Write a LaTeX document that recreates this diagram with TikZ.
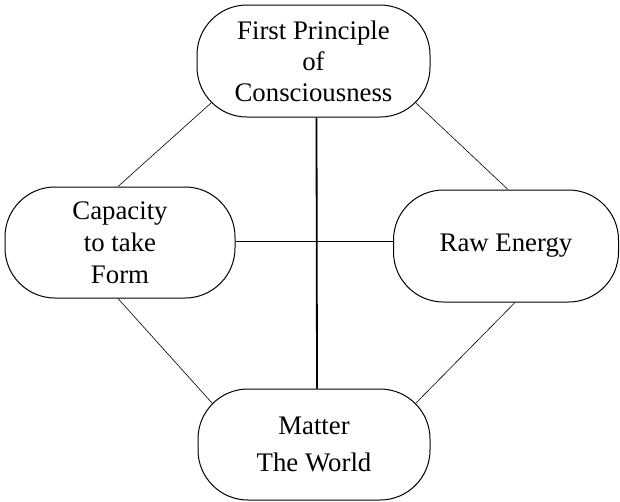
\documentclass[tikz,border=0pt]{standalone}
\usepackage{fontspec}
\setmainfont{Liberation Serif}
\usetikzlibrary{calc}
\begin{document}
\begin{tikzpicture}[x=1pt,y=-1pt,
  box/.style={draw, line width=1pt, rounded corners=50pt, align=center,
    font=\fontsize{26.8}{31}\selectfont, inner sep=0pt},
  thinlink/.style={line width=0.6pt},
  crossline/.style={line width=1.8pt}]
\useasboundingbox (0,0) rectangle (620,501);
\node[box, minimum width=233pt, minimum height=112pt] (top) at (313.5,61) {First Principle\\of\\Consciousness};
\node[box, minimum width=230pt, minimum height=111pt] (left) at (120,242.5) {Capacity\\[1pt]to take\\[1pt]Form};
\node[box, minimum width=225pt, minimum height=112pt] (right) at (506,246) {Raw Energy};
\node[box, minimum width=232pt, minimum height=111pt] (bottom) at (314,444.5) {Matter\\[6pt]The World};
% cross
\draw[crossline] ([xshift=3pt]top.south) -- ([xshift=3pt]bottom.north);
\draw[crossline] ([yshift=1pt]left.east) -- ([yshift=1pt]left.east -| right.west);
% diagonals
\draw[thinlink] ([shift={(14.6,-14.6)}]top.south west) -- ([xshift=-2pt]left.north);
\draw[thinlink] ([shift={(-14.6,-14.6)}]top.south east) -- ([xshift=2pt]right.north);
\draw[thinlink] ([xshift=-2pt]left.south) -- ([shift={(14.6,14.6)}]bottom.north west);
\draw[thinlink] ([xshift=9pt]right.south) -- ([shift={(-14.6,14.6)}]bottom.north east);
\end{tikzpicture}
\end{document}
